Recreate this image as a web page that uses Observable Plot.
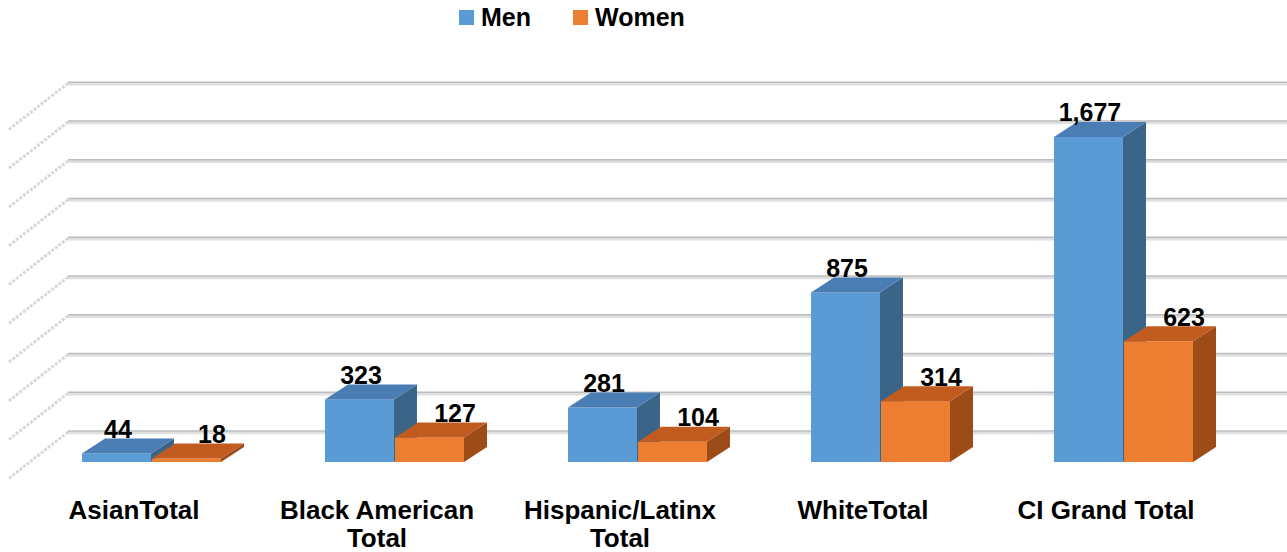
<!DOCTYPE html>
<html>
<head>
<meta charset="utf-8">
<script src="https://cdn.jsdelivr.net/npm/d3@7"></script>
<script src="https://cdn.jsdelivr.net/npm/@observablehq/plot@0.6"></script>
<style>
  body { margin: 0; background: #fff; font-family: "Liberation Sans", Arial, sans-serif; }
  #legend { position: relative; height: 36px; font-weight: bold; font-size: 25px; color: #000; }
  #legend .sw { position: absolute; top: 10px; width: 15px; height: 15px; }
  #legend .lb { position: absolute; top: 5px; line-height: 25px; white-space: nowrap; }
</style>
</head>
<body>
<div id="legend"></div>
<div id="chart"></div>
<script>
// Headcounts by group and sex
const categories = ["AsianTotal", "Black American Total", "Hispanic/Latinx Total", "WhiteTotal", "CI Grand Total"];
const categoryLabels = ["AsianTotal", "Black American\nTotal", "Hispanic/Latinx\nTotal", "WhiteTotal", "CI Grand Total"];
const series = ["Men", "Women"];
const men = [44, 323, 281, 875, 1677];
const women = [18, 127, 104, 314, 623];
const gridValues = [200, 400, 600, 800, 1000, 1200, 1400, 1600, 1800, 2000];

const palette = {
  Men:   {front: "#5b9bd5", top: "#4a7db3", side: "#3a6488"},
  Women: {front: "#ed7d31", top: "#c25b1f", side: "#9d4c18"}
};

const rows = categories.map((c, i) => ({category: c, label: categoryLabels[i], Men: men[i], Women: women[i]}));

// Legend
const legend = document.getElementById("legend");
const legendLeft = {Men: 459, Women: 573};
for (const s of series) {
  const sw = document.createElement("span");
  sw.className = "sw";
  sw.style.left = legendLeft[s] + "px";
  sw.style.background = palette[s].front;
  const lb = document.createElement("span");
  lb.className = "lb";
  lb.style.left = (legendLeft[s] + 22) + "px";
  lb.textContent = s;
  legend.append(sw, lb);
}

// Category band holds both bars of a group side by side
const xOptions = {domain: categories, range: [80, 1196], paddingInner: 0.426, paddingOuter: 0};
const bandwidth = d3.scaleBand(xOptions.domain, xOptions.range)
  .paddingInner(xOptions.paddingInner).paddingOuter(0).bandwidth();
const half = bandwidth / 2;

// 3D extrusion of each bar: side and top faces behind the front rect
const depthX = 23, depthY = 15;
const SVGNS = "http://www.w3.org/2000/svg";
function face(d, fill) {
  const p = document.createElementNS(SVGNS, "path");
  p.setAttribute("d", d);
  p.setAttribute("fill", fill);
  return p;
}
function extrude(colors) {
  return function (index, scales, values, dimensions, context, next) {
    const g = next(index, scales, values, dimensions, context);
    for (const r of Array.from(g.querySelectorAll("rect"))) {
      const x = +r.getAttribute("x"), y = +r.getAttribute("y");
      const w = +r.getAttribute("width"), h = +r.getAttribute("height");
      g.append(
        face(`M${x + w},${y}L${x + w + depthX},${y - depthY}L${x + w + depthX},${y + h - depthY}L${x + w},${y + h}Z`, colors.side),
        face(`M${x},${y}L${x + depthX},${y - depthY}L${x + w + depthX},${y - depthY}L${x + w},${y}Z`, colors.top)
      );
    }
    return g;
  };
}

// Slanted side-wall strokes at the left end of each gridline
function sideWall(index, scales, values, dimensions, context, next) {
  const g = next(index, scales, values, dimensions, context);
  for (const l of Array.from(g.querySelectorAll("line"))) {
    const x = +l.getAttribute("x1"), y = +l.getAttribute("y1");
    const s = document.createElementNS(SVGNS, "line");
    s.setAttribute("x1", x); s.setAttribute("y1", y + 1);
    s.setAttribute("x2", x - 60); s.setAttribute("y2", y + 48);
    s.setAttribute("stroke", "#d8d8d8");
    s.setAttribute("stroke-width", 3);
    s.setAttribute("stroke-dasharray", "3 1.5");
    g.append(s);
  }
  return g;
}

const fmt = d3.format(",");

const chart = Plot.plot({
  width: 1287,
  height: 516,
  marginLeft: 68,
  marginRight: 0,
  marginTop: 38.4,
  marginBottom: 90,
  style: {fontFamily: "'Liberation Sans', Arial, sans-serif", background: "#fff"},
  x: {type: "band", ...xOptions, axis: null},
  y: {domain: [0, 2000], axis: null},
  marks: [
    // back-wall gridlines
    Plot.ruleY(gridValues, {stroke: "#e0e0e0", strokeWidth: 3, dy: 9}),
    Plot.ruleY(gridValues, {stroke: "#bcbcbc", strokeWidth: 1.4, dy: 7.3, render: sideWall}),
    // bars
    Plot.barY(rows, {x: "category", y: "Men", fill: palette.Men.front, insetRight: half, render: extrude(palette.Men)}),
    Plot.barY(rows, {x: "category", y: "Women", fill: palette.Women.front, insetLeft: half, render: extrude(palette.Women)}),
    // value labels
    Plot.text(rows, {x: "category", y: "Men", text: d => fmt(d.Men), dx: -half / 2 + 1, dy: -24,
      fontSize: 25, fontWeight: "bold", fill: "#000"}),
    Plot.text(rows, {x: "category", y: "Women", text: d => fmt(d.Women), dx: half / 2 + 25, dy: -24,
      fontSize: 25, fontWeight: "bold", fill: "#000"}),
    // category labels
    Plot.text(rows, {x: "category", text: "label", frameAnchor: "bottom", lineAnchor: "top",
      dy: 36.5, dx: -18, fontSize: 26, fontWeight: "bold", lineHeight: 1.08, fill: "#000"})
  ]
});
document.getElementById("chart").append(chart);
</script>
</body>
</html>
